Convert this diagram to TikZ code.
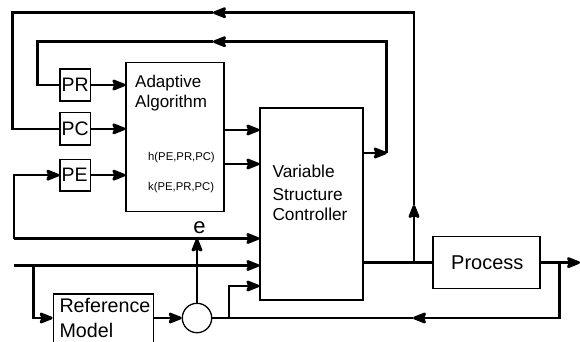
\documentclass[tikz,border=0pt]{standalone}
\usepackage{fontspec}
\setmainfont{Liberation Sans}
\usetikzlibrary{arrows.meta,calc}
\begin{document}
\begin{tikzpicture}[x=1pt,y=-1pt,
  blk/.style={draw,line width=1.3pt,inner sep=0pt,rectangle},
  conn/.style={line width=2.6pt},
  arr/.style={-{Stealth[length=16pt,width=12.5pt,inset=2.5pt,round]}},
  txt/.style={inner sep=0pt,anchor=base west}]
\useasboundingbox (0,0) rectangle (580,341);
\clip (0,0) rectangle (580,341);
% blocks
\node[blk,minimum width=30.7pt,minimum height=32pt] (PR) at (75.35,85) {};
\node[blk,minimum width=30.7pt,minimum height=32.3pt] (PC) at (75.35,128.85) {};
\node[blk,minimum width=30.7pt,minimum height=31.7pt] (PE) at (75.35,175.15) {};
\node[blk,minimum width=98pt,minimum height=149pt] (AA) at (175,137.2) {};
\node[blk,minimum width=103pt,minimum height=192pt] (VSC) at (311.5,204) {};
\node[blk,minimum width=107pt,minimum height=51.8pt] (Proc) at (486.5,262.6) {};
\node[blk,minimum width=100pt,minimum height=66pt] (RM) at (103.3,327) {};
\node[draw,line width=1.3pt,circle,inner sep=0pt,minimum size=29.4pt] (circ) at (197,318) {};
% texts
\node[txt,font=\fontsize{19.5}{22}\selectfont] (tPR) at (61.5,91.8) {PR};
\node[txt,font=\fontsize{19.5}{22}\selectfont] (tPC) at (61.5,135.7) {PC};
\node[txt,font=\fontsize{19.5}{22}\selectfont] (tPE) at (61.5,181.8) {PE};
\node[txt,font=\fontsize{17}{20}\selectfont] (tA1) at (135,87) {Adaptive};
\node[txt,font=\fontsize{17}{20}\selectfont] (tA2) at (135,107) {Algorithm};
\node[txt,font=\fontsize{11.3}{13}\selectfont] (th) at (148,160) {h(PE,PR,PC)};
\node[txt,font=\fontsize{11.3}{13}\selectfont] (tk) at (148,190) {k(PE,PR,PC)};
\node[txt,font=\fontsize{17.3}{20}\selectfont] (tV1) at (272.3,177.7) {Variable};
\node[txt,font=\fontsize{17.3}{20}\selectfont] (tV2) at (272.3,200) {Structure};
\node[txt,font=\fontsize{17.3}{20}\selectfont] (tV3) at (272.3,220.7) {Controller};
\node[txt,font=\fontsize{20}{24}\selectfont] (tP) at (451,269.3) {Process};
\node[txt,font=\fontsize{19.7}{24}\selectfont] (tR1) at (59.3,312.3) {Reference};
\node[txt,font=\fontsize{19.7}{24}\selectfont] (tR2) at (59.3,337.7) {Model};
\node[inner sep=0pt,anchor=base,font=\fontsize{22}{26}\selectfont] (te) at (199.5,233.3) {e};
% coordinates
\coordinate (oA) at (414,262.6);
\coordinate (oUp) at (414,205);
\coordinate (oB) at (414,12.7);
\coordinate (oL) at (213,12.7);
\coordinate (oC) at (12.7,12.7);
\coordinate (iA) at (386.7,153);
\coordinate (iB) at (386.7,41.7);
\coordinate (iL) at (213,41.7);
\coordinate (iC) at (37.7,41.7);
\coordinate (eL) at (14,238.5);
\coordinate (in) at (14,265.5);
\coordinate (inB) at (33.3,265.5);
\coordinate (br) at (229,318);
\coordinate (out) at (580,262.6);
\coordinate (fbTop) at (559.3,262.6);
\coordinate (fbBot) at (559.3,318);
\coordinate (fbMid) at (413,318);
% P blocks to adaptive algorithm
\draw[conn,arr] (PR.east) -- (PR.east -| AA.west);
\draw[conn,arr] (PC.east) -- (PC.east -| AA.west);
\draw[conn,arr] (PE.east) -- (PE.east -| AA.west);
% adaptive algorithm to controller
\draw[conn,arr] (AA.east |- 0,130) -- (VSC.west |- 0,130);
\draw[conn,arr] (AA.east |- 0,164) -- (VSC.west |- 0,164);
% controller to process and output
\draw[conn] (VSC.east |- Proc.west) -- (Proc.west);
\draw[conn,arr] (Proc.east) -- (out);
% outer loop
\draw[conn,arr] (oA) -- (oUp);
\draw[conn,arr] (oUp) -- (oB) -- (oL);
\draw[conn] (oL) -- (oC) |- (PC.west);
% inner loop
\draw[conn,arr] (VSC.east |- iA) -- (iA);
\draw[conn,arr] (iA) -- (iB) -- (iL);
\draw[conn] (iL) -- (iC) |- (PR.west);
% error signal
\draw[conn,arr] (circ.north) -- (circ.north |- eL);
\draw[conn,arr] (eL) -- (VSC.west |- eL);
\draw[conn,arr] (eL) |- (PE.west);
% input
\draw[conn,arr] (in) -- (VSC.west |- in);
\draw[conn,arr] (inB) |- (RM.west |- circ.center);
\draw[conn,arr] (RM.east |- circ.center) -- (circ.west);
% feedback
\draw[conn,arr] (fbTop) -- (fbBot) -- (fbMid);
\draw[conn] (fbMid) -- (circ.east);
\draw[conn,arr] (br) |- (VSC.west |- 0,286);
\end{tikzpicture}
\end{document}
